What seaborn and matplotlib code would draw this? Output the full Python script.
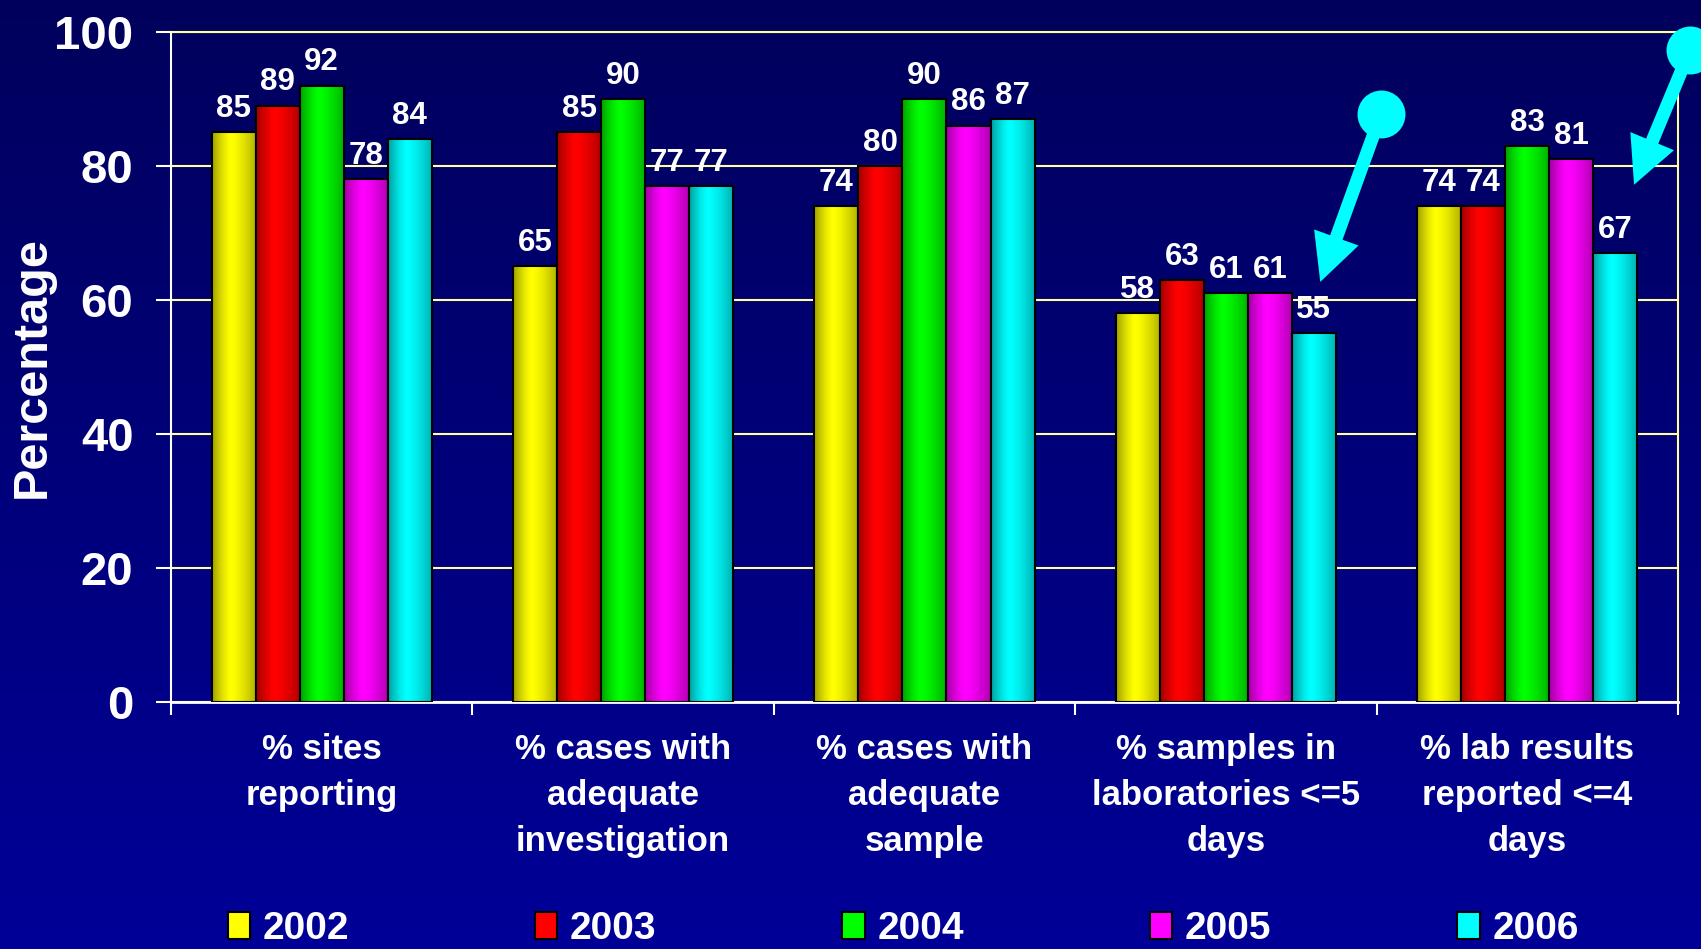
import numpy as np
import pandas as pd
import matplotlib
matplotlib.use('Agg')
import matplotlib.pyplot as plt
import seaborn as sns

# Indicator categories and yearly values (%)
categories = ['% sites\nreporting',
              '% cases with\nadequate\ninvestigation',
              '% cases with\nadequate\nsample',
              '% samples in\nlaboratories <=5\ndays',
              '% lab results\nreported <=4\ndays']
years = ['2002', '2003', '2004', '2005', '2006']
v2002 = [85, 65, 74, 58, 74]
v2003 = [89, 85, 80, 63, 74]
v2004 = [92, 90, 90, 61, 83]
v2005 = [78, 77, 86, 61, 81]
v2006 = [84, 77, 87, 55, 67]
bar_colors = ['#FFFF00', '#FF0000', '#00FF00', '#FF00FF', '#00FFFF']

wide = pd.DataFrame({'category': categories, '2002': v2002, '2003': v2003,
                     '2004': v2004, '2005': v2005, '2006': v2006})
df = wide.melt(id_vars='category', var_name='year', value_name='value')

sns.set_theme(style='white')
plt.rcParams['font.family'] = ['Liberation Sans', 'DejaVu Sans']
plt.rcParams['font.weight'] = 'bold'

fig = plt.figure(figsize=(17.01, 9.49), dpi=100)

# background gradient, dark navy at top to brighter blue at bottom
bg = fig.add_axes([0, 0, 1, 1], zorder=-10)
t = np.linspace(0, 1, 256)[:, None]
top = np.array([0, 0, 0x5C]) / 255
bot = np.array([0, 0, 0x98]) / 255
grad = (top * (1 - t) + bot * t)[:, None, :] * np.ones((1, 2, 1))
bg.imshow(grad, aspect='auto', extent=[0, 1, 0, 1])
bg.axis('off')

ax = fig.add_axes([0.1005, 0.2603, 0.8860, 0.7060])
ax.set_facecolor('none')

sns.barplot(data=df, x='category', y='value', hue='year', palette=bar_colors,
            width=0.73, edgecolor='black', linewidth=1.5, saturation=1,
            legend=False, ax=ax, zorder=3)

ax.set_xlim(-0.5, 4.5)
ax.set_ylim(0, 100)

# cylinder-like shading on the bars
prof = np.linspace(0, 1, 64)
alpha = np.where(prof < 0.42, 0.38 * ((0.42 - prof) / 0.42) ** 1.4,
                 0.32 * ((prof - 0.42) / 0.58) ** 1.4)
shade = np.zeros((1, 64, 4))
shade[0, :, 3] = alpha
for cont in ax.containers:
    for p in cont:
        x0, w, h = p.get_x(), p.get_width(), p.get_height()
        ax.imshow(shade, extent=[x0, x0 + w, 0, h], aspect='auto', zorder=3.5,
                  interpolation='bilinear')
    ax.bar_label(cont, fmt='{:.0f}', padding=6, color='white',
                 fontsize=22.5, fontweight='bold')
ax.set_xlim(-0.5, 4.5)
ax.set_ylim(0, 100)

# grid and spines
ax.set_yticks(range(0, 101, 20))
ax.yaxis.grid(True, color='#FFFFA0', lw=1.5)
ax.xaxis.grid(False)
ax.set_axisbelow(True)
ax.spines['left'].set_color('white')
ax.spines['left'].set_linewidth(1.5)
ax.spines['bottom'].set_color('white')
ax.spines['bottom'].set_linewidth(2)
ax.spines['top'].set_color('#FFFFA0')
ax.spines['right'].set_color('#FFFFA0')
ax.spines['top'].set_linewidth(1.5)
ax.spines['right'].set_linewidth(1.5)

ax.tick_params(axis='y', colors='white', length=11, width=1.5, pad=16,
               labelsize=34, left=True, direction='out')
ax.tick_params(axis='x', which='major', colors='white', length=0,
               labelsize=25, pad=22)
ax.set_xticks(np.arange(-0.5, 5, 1), minor=True)
ax.tick_params(axis='x', which='minor', colors='white', length=9, width=1.5,
               bottom=True, direction='out')
for lbl in ax.get_xticklabels():
    lbl.set_linespacing(1.5)
    lbl.set_fontweight('bold')
for lbl in ax.get_yticklabels():
    lbl.set_fontweight('bold')

ax.set_xlabel('')
ax.set_ylabel('Percentage', color='white', fontsize=35, fontweight='bold',
              labelpad=0)

# cyan pointer arrows
def pointer(tail, tip):
    ax.annotate('', xy=tip, xytext=tail, xycoords='data',
                arrowprops=dict(arrowstyle='simple,head_length=3.4,head_width=3.4,tail_width=0.95',
                                color='#00FFFF', lw=0, shrinkA=0, shrinkB=0,
                                mutation_scale=10),
                annotation_clip=False, zorder=6)
    ax.plot(tail[0], tail[1], 'o', ms=34.5, color='#00FFFF', mec='none',
            clip_on=False, zorder=6)

pointer((3.515, 87.8), (3.313, 62.7))
pointer((4.54, 97.3), (4.354, 77.2))

fig.legend(handles=list(ax.containers), labels=years, loc='center',
           bbox_to_anchor=(0.531, 0.021), ncol=5, frameon=False, fontsize=28,
           handlelength=0.57, handleheight=0.67, handletextpad=0.33,
           columnspacing=4.78, labelcolor='white')

fig.savefig('out.png', dpi=100)
